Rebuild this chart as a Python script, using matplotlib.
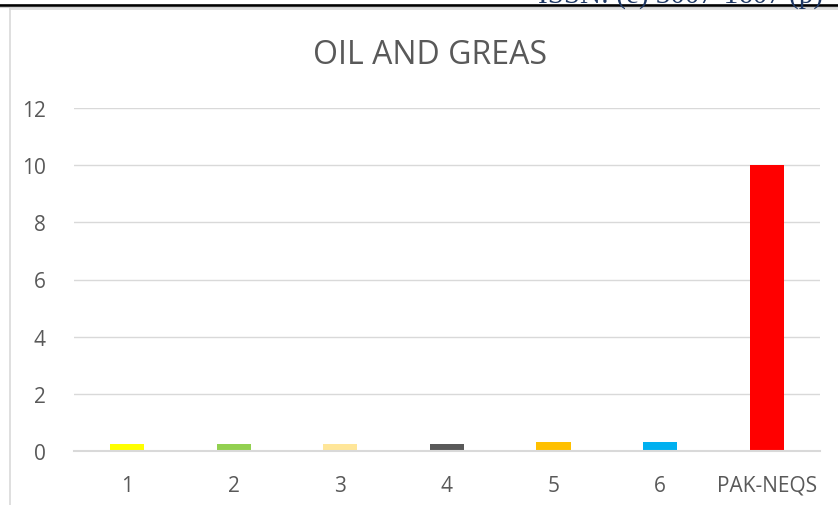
import matplotlib
matplotlib.use("Agg")
import matplotlib.pyplot as plt
from matplotlib.lines import Line2D

# Data
categories = ["1", "2", "3", "4", "5", "6", "PAK-NEQS"]
values = [0.25, 0.25, 0.25, 0.25, 0.3, 0.3, 10]
colors = ["#ffff00", "#92d050", "#ffe699", "#595959", "#ffc000", "#00b0f0", "#ff0000"]
y_ticks = [0, 2, 4, 6, 8, 10, 12]
title = "OIL AND GREAS"
header = "ISSN: (e) 3007-1607 (p)"

W, H = 838, 506
fig = plt.figure(figsize=(W / 100, H / 100), dpi=100)
fig.patch.set_facecolor("white")

def px(x, y):
    return x / W, 1 - y / H

# Page header rule and journal header text
fig.text(538 / W, 1 - 3.0 / H, header, family="Liberation Serif", fontsize=21,
         color="#1f3864", ha="left", va="baseline")
fig.add_artist(Line2D([0, 1], [1 - 5.5 / H] * 2, transform=fig.transFigure,
                      color="black", lw=1.9))
fig.add_artist(Line2D([0, 1], [1 - 7.6 / H] * 2, transform=fig.transFigure,
                      color="#d0d0d0", lw=0.8))

# Chart area border
x0, y0 = px(9.5, 10)
fig.add_artist(Line2D([x0, x0], [0, y0], transform=fig.transFigure,
                      color="#d9d9d9", lw=1.2))
fig.add_artist(Line2D([x0, 1], [y0, y0], transform=fig.transFigure,
                      color="#d9d9d9", lw=1.2))

# Plot area
left, right = 73.7, 820
top, bottom = 109, 452
ax = fig.add_axes([left / W, 1 - bottom / H, (right - left) / W, (bottom - top) / H])
xpos = list(range(len(categories)))
ax.bar(xpos, values, width=0.32, color=colors, zorder=3)
ax.set_xlim(-0.5, len(categories) - 0.5)
ax.set_ylim(0, 12)
ax.set_yticks(y_ticks)
ax.set_yticklabels([str(t) for t in y_ticks])
ax.set_xticks(xpos)
ax.set_xticklabels(categories)

for s in ["top", "right", "left"]:
    ax.spines[s].set_visible(False)
ax.spines["bottom"].set_color("#d9d9d9")
ax.spines["bottom"].set_linewidth(1.5)
ax.spines["bottom"].set_zorder(4)

ax.grid(axis="y", color="#d9d9d9", lw=1.0, zorder=0)
ax.tick_params(axis="both", length=0, labelsize=15, labelcolor="#595959")
ax.tick_params(axis="y", pad=20)
ax.tick_params(axis="x", pad=17)
for lab in ax.get_xticklabels() + ax.get_yticklabels():
    lab.set_family("Open Sans")

fig.text(430 / W, 1 - 55 / H, title, family="Open Sans", fontsize=23,
         color="#595959", ha="center", va="center")

fig.savefig("out.png", dpi=100, facecolor="white")
